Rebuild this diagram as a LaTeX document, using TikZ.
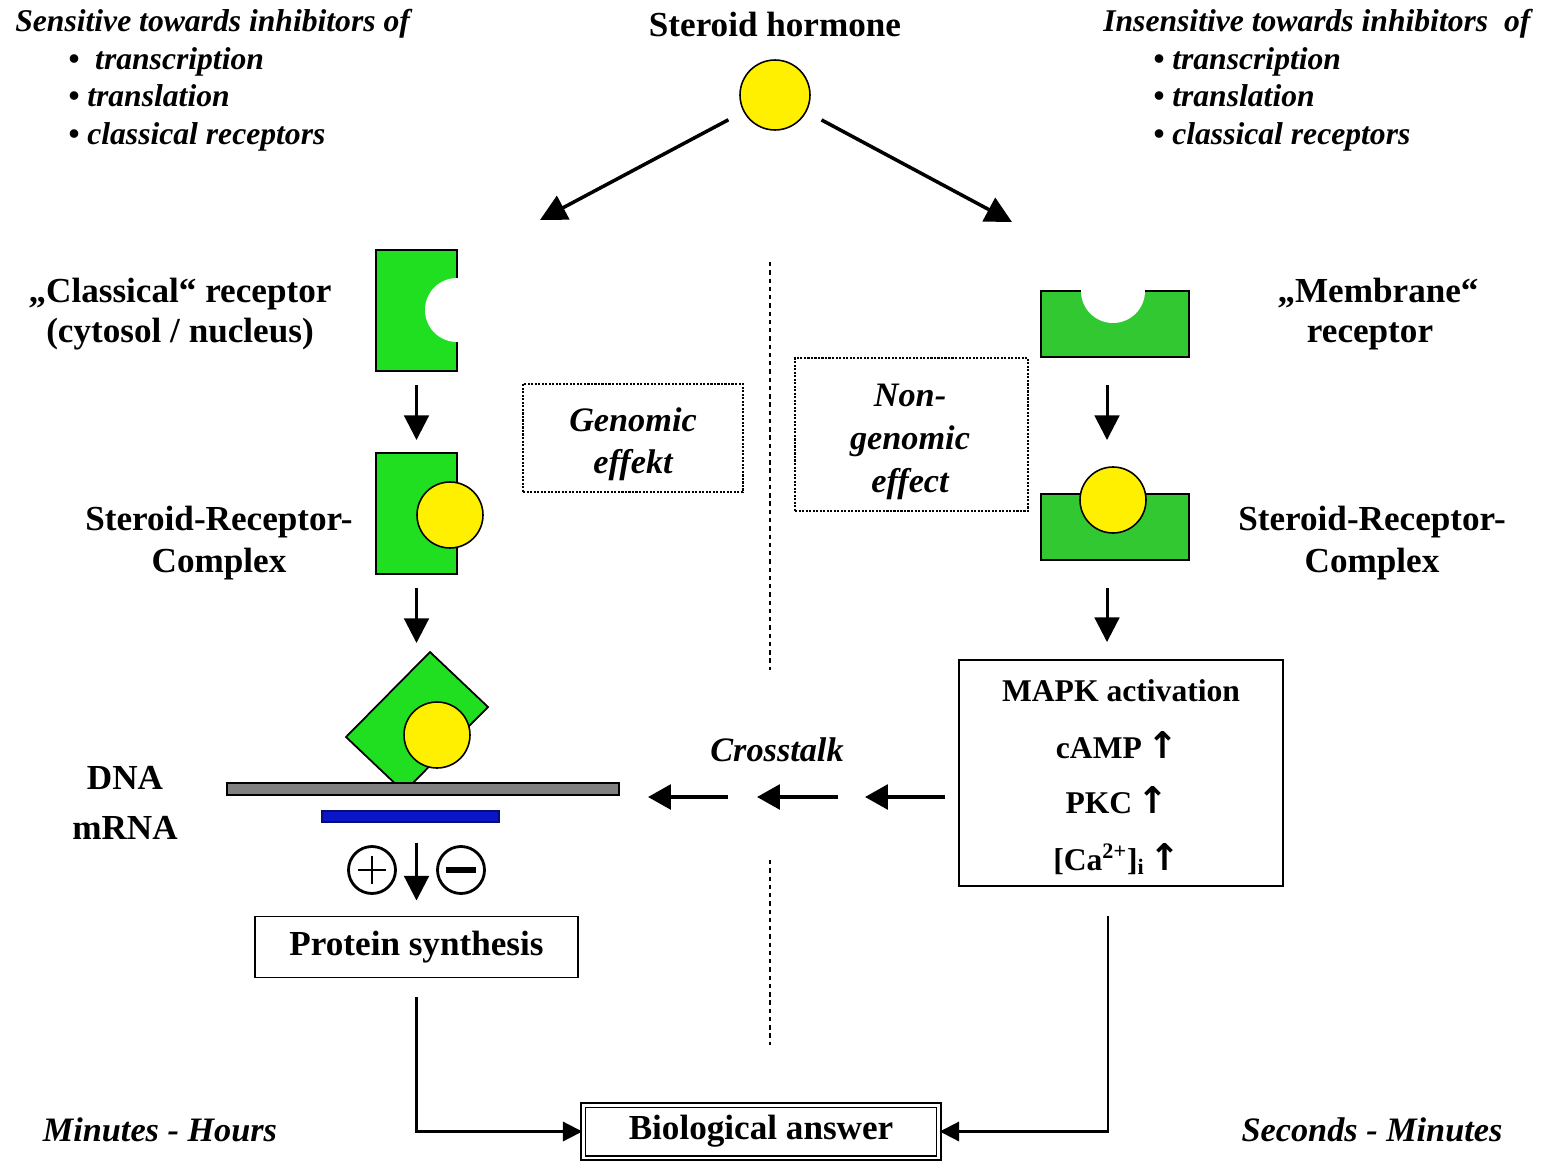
\documentclass[tikz,border=0pt]{standalone}
\usepackage{fontspec}
\setmainfont{Liberation Serif}
\newfontfamily\arrowfont{DejaVu Sans}
\usetikzlibrary{arrows.meta}
\definecolor{gL}{RGB}{32,222,32}
\definecolor{gR}{RGB}{50,200,50}
\definecolor{yel}{RGB}{255,240,0}
\definecolor{dnagray}{RGB}{128,128,128}
\definecolor{rnablue}{RGB}{10,20,200}
\newcommand{\uparr}{{\arrowfont\bfseries\fontsize{21}{21}\selectfont ↑}}
\tikzset{
  lbl/.style={font=\fontsize{20}{23}\selectfont\bfseries, anchor=base, inner sep=0pt},
  ilbl/.style={font=\fontsize{19.5}{22}\selectfont\bfseries\itshape, anchor=base, inner sep=0pt},
  hdr/.style={font=\fontsize{18}{21}\selectfont\bfseries\itshape, anchor=base west, inner sep=0pt},
  mlbl/.style={font=\fontsize{18}{21}\selectfont\bfseries, anchor=base, inner sep=0pt},
  area/.style={draw=none, inner sep=0pt, outer sep=0pt},
  arr/.style={line width=1.7pt, -{Triangle[length=14pt,width=14pt]}},
  darr/.style={line width=2pt, -{Triangle[length=15pt,width=15pt]}},
  carr/.style={line width=2.1pt, -{Triangle[length=13pt,width=14pt]}},
  barr/.style={line width=1.2pt, -{Triangle[length=11pt,width=11pt]}},
  dotbox/.style={draw, line width=1.3pt, dash pattern=on 1.2pt off 0.8pt, inner sep=0pt},
  recshape/.style={draw, line width=1pt},
  ball/.style={draw, fill=yel, line width=0.9pt},
  divider/.style={line width=0.9pt, dash pattern=on 2.5pt off 2.2pt},
}
\begin{document}
\begin{tikzpicture}[x=0.02cm,y=-0.02cm]
\useasboundingbox[fill=white] (0,0) rectangle (1542,1162);

% ---------- header texts ----------
\node[hdr] (hl0) at (15,32) {Sensitive towards inhibitors of};
\node[hdr] (hl1) at (68,70) {•~ transcription};
\node[hdr] (hl2) at (68,107) {• translation};
\node[hdr] (hl3) at (68,145) {• classical receptors};
\node[hdr] (hr0) at (1103,32) {Insensitive towards inhibitors~ of};
\node[hdr] (hr1) at (1153,70) {• transcription};
\node[hdr] (hr2) at (1153,107) {• translation};
\node[hdr] (hr3) at (1153,145) {• classical receptors};

% ---------- steroid hormone ----------
\node[lbl] (sh) at (775,37) {Steroid hormone};
\node[ball, circle, minimum size=1.4cm, inner sep=0pt] (hormone) at (775,95) {};
\coordinate (gtarget) at (540,220);
\coordinate (ngtarget) at (1012,222);
\draw[darr, shorten <=0.34cm] (hormone) -- (gtarget);
\draw[darr, shorten <=0.34cm] (hormone) -- (ngtarget);

% ---------- divider ----------
\coordinate (dv1) at (770,262);
\coordinate (dv2) at (770,670);
\coordinate (dv3) at (770,860);
\coordinate (dv4) at (770,1045);
\draw[divider] (dv1) -- (dv2);
\draw[divider] (dv3) -- (dv4);

% ---------- left: classical receptor ----------
\node[area, minimum width=1.62cm, minimum height=2.42cm] (rec1) at (416.5,310.5) {};
\draw[recshape, fill=gL] (rec1.north west) rectangle (rec1.south east);
\fill[white] (457,310) circle[radius=32];
\node[lbl] (cl1) at (180,302) {„Classical“ receptor};
\node[lbl] (cl2) at (180,342) {(cytosol / nucleus)};

\node[area, minimum width=1.62cm, minimum height=2.42cm] (cpx1) at (416.5,513.5) {};
\draw[recshape, fill=gL] (cpx1.north west) rectangle (cpx1.south east);
\draw[ball] (450,515) circle[radius=33];
\node[lbl] (sl1) at (219,530) {Steroid-Receptor-};
\node[lbl] (sl2) at (219,572) {Complex};

\draw[arr, shorten <=0.28cm, shorten >=0.26cm] (rec1.south) -- (cpx1.north);

% tilted complex on DNA
\node[area, minimum width=2.84cm, minimum height=2.8cm] (tilt) at (417,722) {};
\draw[recshape, fill=gL] (430,652) -- (488,707) -- (404,792) -- (346,737) -- cycle;
\draw[ball] (437,735) circle[radius=33];
\draw[arr, shorten <=0.28cm, shorten >=0.18cm] (cpx1.south) -- (cpx1.south |- tilt.north);

\node[draw, fill=dnagray, line width=0.9pt, minimum width=7.84cm, minimum height=0.24cm, inner sep=0pt] (dna) at (423,789) {};
\node[draw=rnablue!60!black, fill=rnablue, line width=0.6pt, minimum width=3.54cm, minimum height=0.22cm, inner sep=0pt] (mrna) at (410.5,816.5) {};
\node[lbl] (dnal) at (125,789) {DNA};
\node[lbl] (mrnal) at (125,839) {mRNA};

% plus / minus
\node[draw, circle, line width=1.6pt, minimum size=0.94cm, inner sep=0pt] (plus) at (372,870) {};
\draw[line width=1.6pt] ([xshift=-0.28cm]plus.center) -- ([xshift=0.28cm]plus.center);
\draw[line width=1.6pt] ([yshift=-0.28cm]plus.center) -- ([yshift=0.28cm]plus.center);
\node[draw, circle, line width=1.6pt, minimum size=0.94cm, inner sep=0pt] (minus) at (461,870) {};
\draw[line width=3.2pt] ([xshift=-0.3cm]minus.center) -- ([xshift=0.3cm]minus.center);

% protein synthesis
\node[draw, line width=1.1pt, minimum width=6.46cm, minimum height=1.22cm, inner sep=0pt,
      font=\fontsize{20}{23}\selectfont\bfseries] (prot) at (416.5,947) {Protein synthesis};
\draw[arr, shorten <=0.4cm, shorten >=0.3cm] (prot.north |- mrna.south) -- (prot.north);

% ---------- labels of the two routes ----------
\node[dotbox, minimum width=4.4cm, minimum height=2.16cm] (genbox) at (633,438) {};
\node[ilbl] (gen1) at (633,431) {Genomic};
\node[ilbl] (gen2) at (633,473) {effekt};
\node[dotbox, minimum width=4.66cm, minimum height=3.06cm] (ngbox) at (911.5,434.5) {};
\node[ilbl] (ng1) at (910,406) {Non-};
\node[ilbl] (ng2) at (910,449) {genomic};
\node[ilbl] (ng3) at (910,492) {effect};

% ---------- right: membrane receptor ----------
\node[area, minimum width=2.96cm, minimum height=1.32cm] (mrec) at (1115,324) {};
\draw[recshape, fill=gR] (mrec.north west) rectangle (mrec.south east);
\fill[white] (1113,291) circle[radius=32];
\node[lbl] (ml1) at (1378,302) {„Membrane“};
\node[lbl] (ml2) at (1370,342) {receptor};

\node[area, minimum width=2.96cm, minimum height=1.86cm] (mcpx) at (1115,513.5) {};
\draw[recshape, fill=gR] (1041,494) rectangle (1189,560);
\draw[ball] (1113,500) circle[radius=33];
\node[lbl] (rsl1) at (1372,530) {Steroid-Receptor-};
\node[lbl] (rsl2) at (1372,572) {Complex};

\draw[arr, shorten <=0.56cm, shorten >=0.54cm] ([xshift=-0.16cm]mrec.south) -- ([xshift=-0.16cm]mcpx.north);

% MAPK box
\node[draw, line width=1.1pt, minimum width=6.48cm, minimum height=4.52cm, inner sep=0pt] (mapk) at (1121,773) {};
\draw[arr, shorten <=0.56cm, shorten >=0.34cm] ([xshift=-0.16cm]mcpx.south) -- ([xshift=-0.16cm]mcpx.south |- mapk.north);
\node[mlbl] (mk1) at (1121,701) {MAPK activation};
\node[mlbl] (mk2) at (1117,758) {cAMP\,\uparr};
\node[mlbl] (mk3) at (1117,813) {PKC\,\uparr};
\node[mlbl] (mk4) at (1117,870) {[Ca\textsuperscript{2+}]\textsubscript{i}\,\uparr};

% crosstalk
\node[ilbl] (ctl) at (777,761) {Crosstalk};
\coordinate (ct1) at (945,797);
\coordinate (ct2) at (865,797);
\coordinate (ct3) at (838,797);
\coordinate (ct4) at (757,797);
\coordinate (ct5) at (728,797);
\coordinate (ct6) at (648,797);
\draw[carr] (ct1) -- (ct2);
\draw[carr] (ct3) -- (ct4);
\draw[carr] (ct5) -- (ct6);

% ---------- biological answer ----------
\node[draw, double, line width=0.85pt, double distance=1.7pt, minimum width=7.12cm, minimum height=1.06cm, inner sep=0pt,
      font=\fontsize{20}{23}\selectfont\bfseries] (bio) at (761,1131.5) {Biological answer};
\draw[barr, shorten <=0.38cm] (prot.south) |- (bio.west);
\draw[barr, shorten <=0.58cm] ([xshift=-0.26cm]mapk.south) |- (bio.east);

\node[ilbl] (tl) at (160,1141) {Minutes - Hours};
\node[ilbl] (tr) at (1372,1141) {Seconds - Minutes};
\end{tikzpicture}
\end{document}
